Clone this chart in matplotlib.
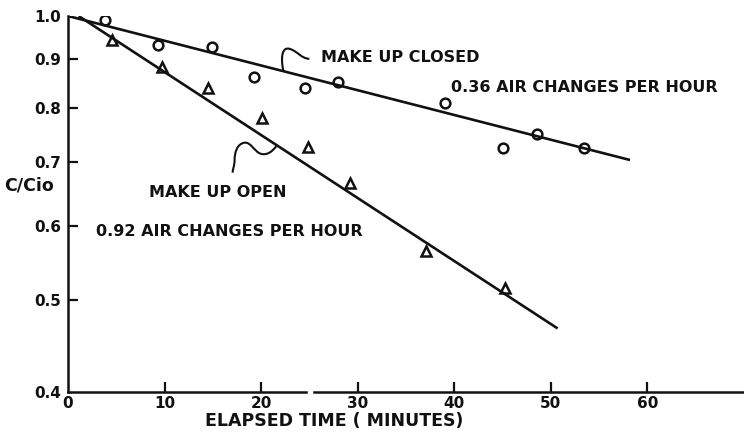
import matplotlib
matplotlib.use("Agg")
import matplotlib.pyplot as plt
from matplotlib.path import Path
from matplotlib.patches import PathPatch
from matplotlib.ticker import FixedLocator, NullLocator
import matplotlib.transforms as mtrans

# ---- data ----
closed_t = [3.8, 9.3, 14.9, 19.3, 24.5, 28.0, 39.0, 45.0, 48.6, 53.4]
closed_c = [0.990, 0.932, 0.927, 0.862, 0.839, 0.851, 0.809, 0.725, 0.750, 0.725]
open_t = [4.6, 9.7, 14.5, 20.1, 24.9, 29.2, 37.1, 45.2]
open_c = [0.943, 0.883, 0.839, 0.780, 0.727, 0.665, 0.564, 0.515]
closed_fit_t = [0.0, 58.2]
closed_fit_c = [1.0, 0.704]
open_fit_t = [1.1, 50.7]
open_fit_c = [1.0, 0.467]
x_ticks = [0, 10, 20, 30, 40, 50, 60]
y_ticks = [0.4, 0.5, 0.6, 0.7, 0.8, 0.9, 1.0]
y_tick_labels = ["0.4", "0.5", "0.6", "0.7", "0.8", "0.9", "1.0"]

W, H, DPI = 744, 436, 100
fig = plt.figure(figsize=(W / DPI, H / DPI), dpi=DPI)
ax = fig.add_axes([68 / W, 1 - 392 / H, (W - 68) / W, (392 - 16) / H])
ax.set_yscale("log")
ax.set_xlim(0, 70)
ax.set_ylim(0.4, 1.0)

ink = "#111111"
fnt = dict(family="DejaVu Sans", fontweight="bold", color=ink)

ax.plot(closed_fit_t, closed_fit_c, color=ink, lw=1.9, solid_capstyle="butt")
ax.plot(open_fit_t, open_fit_c, color=ink, lw=1.9, solid_capstyle="butt")
ax.plot(closed_t, closed_c, ls="none", marker="o", ms=7, mfc="none",
        mec=ink, mew=1.8)
ax.plot(open_t, open_c, ls="none", marker="^", ms=7, mfc="none",
        mec=ink, mew=1.8)

for s in ["top", "right", "bottom"]:
    ax.spines[s].set_visible(False)
ax.spines["left"].set_linewidth(1.8)
ax.spines["left"].set_color(ink)
# bottom axis line drawn with a small break as in the original
btrans = mtrans.blended_transform_factory(ax.transData, ax.transAxes)
ax.plot([0, 24.6], [0, 0], transform=btrans, color=ink, lw=1.8, clip_on=False)
ax.plot([25.5, 70], [0, 0], transform=btrans, color=ink, lw=1.8, clip_on=False)

ax.yaxis.set_major_locator(FixedLocator(y_ticks))
ax.yaxis.set_minor_locator(NullLocator())
ax.set_yticklabels(y_tick_labels)
ax.set_xticks(x_ticks)
ax.set_xticklabels([str(v) for v in x_ticks])
ax.tick_params(axis="both", direction="in", length=7, width=1.6, color=ink)
ax.tick_params(axis="y", pad=5, labelsize=11)
ax.tick_params(axis="x", pad=3, labelsize=11)
for lab in ax.get_xticklabels() + ax.get_yticklabels():
    lab.set_fontweight("bold")
    lab.set_color(ink)
ax.xaxis.get_major_ticks()[0].tick1line.set_visible(False)
ax.yaxis.get_major_ticks()[0].tick1line.set_visible(False)
ax.yaxis.get_major_ticks()[-1].tick1line.set_visible(False)

fig.text(334 / W, 1 - 421 / H, "ELAPSED TIME ( MINUTES)", ha="center",
         va="center", fontsize=12.5, **fnt)
fig.text(4 / W, 1 - 185 / H, "C/Cio", ha="left", va="center", fontsize=12.5, **fnt)


def ptext(px, py, s, size=11.5):
    fig.text(px / W, 1 - py / H, s, ha="left", va="center", fontsize=size, **fnt)


ptext(321, 58, "MAKE UP CLOSED")
ptext(451, 88, "0.36 AIR CHANGES PER HOUR")
ptext(149, 192, "MAKE UP OPEN")
ptext(96, 231, "0.92 AIR CHANGES PER HOUR")

# leader squiggles (anchored on the fitted lines), shapes in pixels
fig.canvas.draw()


def squiggle(anchor, pts):
    ox, oy = ax.transData.transform(anchor)
    verts = [(ox + dx, oy - dy) for dx, dy in pts]
    codes = [Path.MOVETO] + [Path.CURVE4] * (len(verts) - 1)
    fig.add_artist(PathPatch(Path(verts, codes), fc="none", ec=ink, lw=1.5,
                             transform=mtrans.IdentityTransform()))


squiggle((22.3, 0.875), [(0, 0), (-3, -14), (-1, -24), (6, -22),
                          (14, -20), (18, -12), (26, -12)])
squiggle((21.6, 0.729), [(0, 0), (-4, 6), (-10, 10), (-16, 8),
                          (-22, 6), (-26, -4), (-32, -3),
                          (-40, -2), (-42, 8), (-42, 14),
                          (-42, 20), (-44, 24), (-44, 27)])

fig.savefig("out.png", dpi=DPI)
